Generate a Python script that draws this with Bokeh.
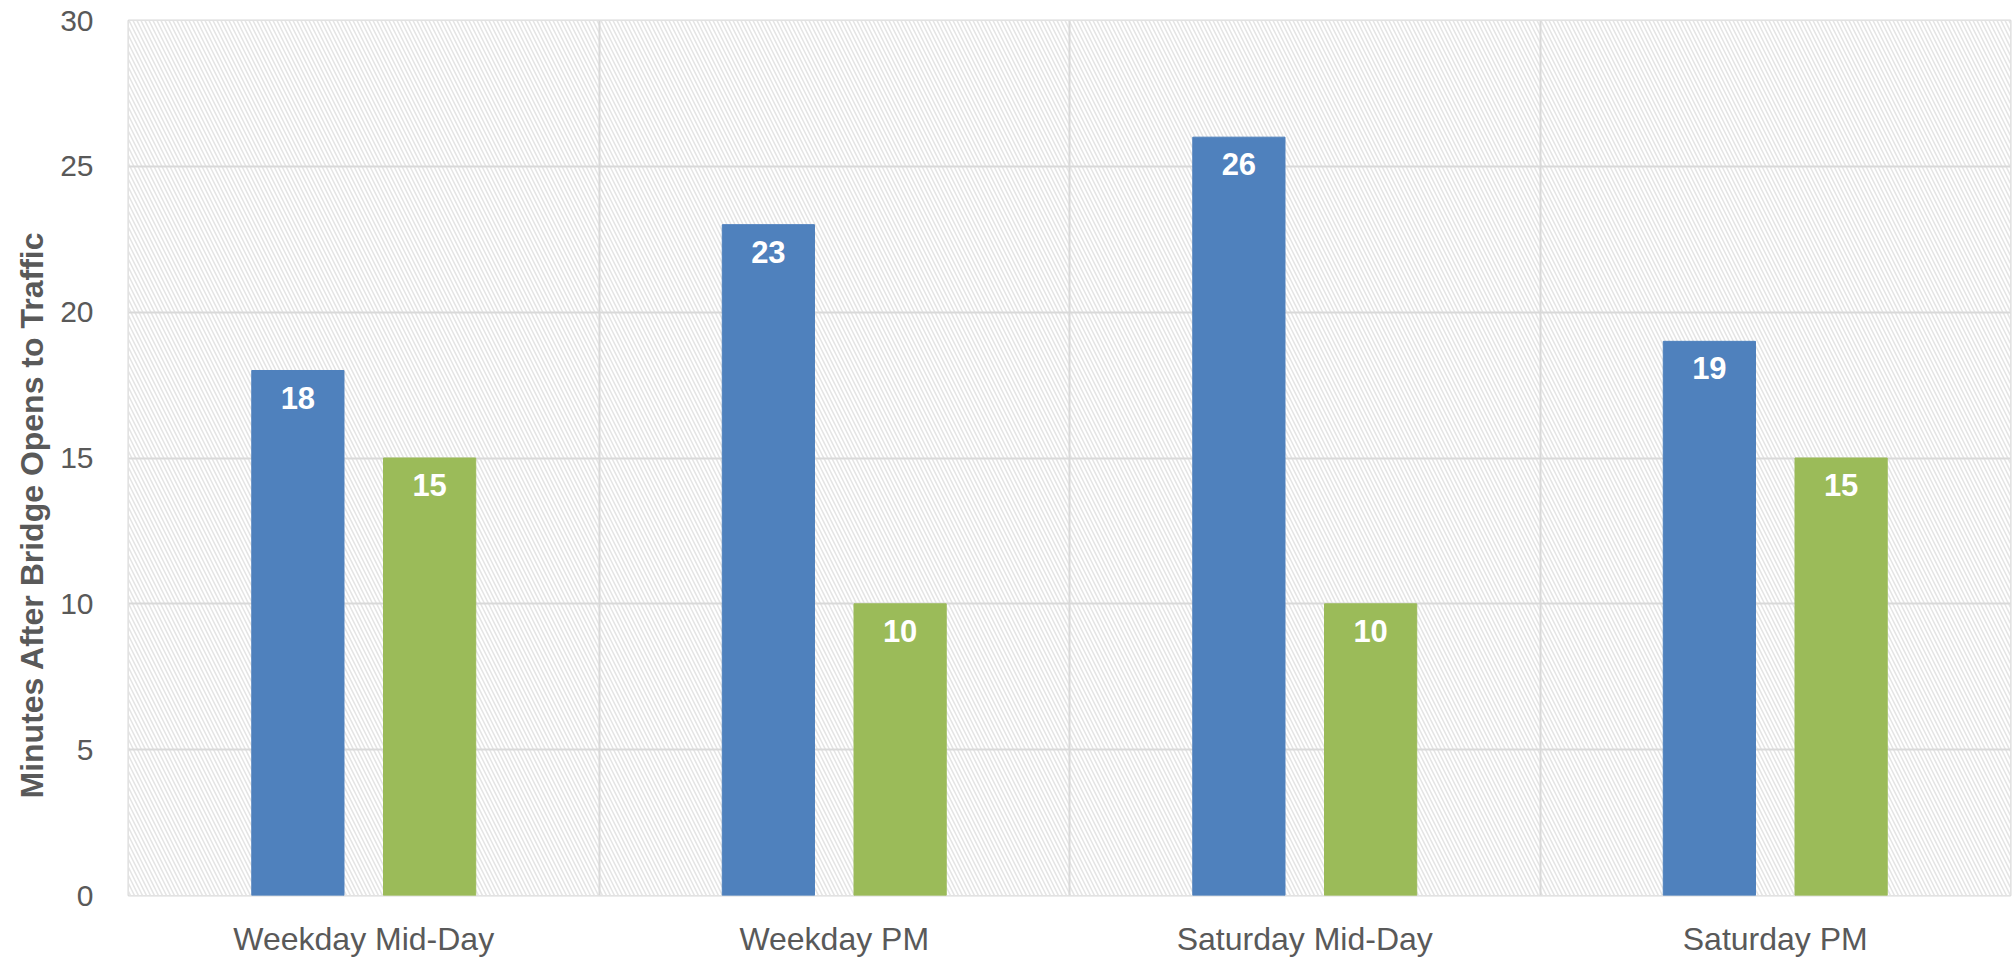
from bokeh.plotting import figure
from bokeh.models import ColumnDataSource, BoxAnnotation, FixedTicker, Range1d, LabelSet, Title
from bokeh.core.properties import value
from bokeh.embed import file_html
from bokeh.resources import INLINE

categories = ["Weekday Mid-Day", "Weekday PM", "Saturday Mid-Day", "Saturday PM"]
series_a = [18, 23, 26, 19]
series_b = [15, 10, 10, 15]
y_ticks = [0, 5, 10, 15, 20, 25, 30]
y_title = "Minutes After Bridge Opens to Traffic"

BLUE = "#4F81BD"
GREEN = "#9BBB59"
TEXT = "#595959"
GRID = "#d9d9d9"
FONT = "Liberation Sans"

centers = [i + 0.5 for i in range(len(categories))]
offset = 0.14
width = 0.196

src_a = ColumnDataSource(dict(x=[c - offset for c in centers], top=series_a, lbl=[str(v) for v in series_a]))
src_b = ColumnDataSource(dict(x=[c + offset for c in centers], top=series_b, lbl=[str(v) for v in series_b]))

p = figure(width=2015, height=959, output_backend="svg", toolbar_location=None,
           x_range=Range1d(0, len(categories)), y_range=Range1d(0, 30),
           min_border_left=128, min_border_right=5, min_border_top=20, min_border_bottom=59)

p.background_fill_color = "white"
p.border_fill_color = "white"
p.outline_line_color = GRID
p.outline_line_width = 2

hatch = BoxAnnotation(level="image", fill_color="white", fill_alpha=1.0, line_alpha=0,
                      hatch_pattern="\\", hatch_color="#e4e4e4", hatch_scale=8, hatch_weight=1.5)
p.add_layout(hatch)

p.vbar(x="x", top="top", width=width, bottom=0, source=src_a, fill_color=BLUE, line_color=BLUE)
p.vbar(x="x", top="top", width=width, bottom=0, source=src_b, fill_color=GREEN, line_color=GREEN)

for src in (src_a, src_b):
    p.add_layout(LabelSet(x="x", y="top", text="lbl", source=src, text_align="center",
                          text_baseline="top", y_offset=-16, text_color="white",
                          text_font=value(FONT), text_font_style="bold", text_font_size="31px"))

# axes
p.xaxis.ticker = FixedTicker(ticks=centers)
p.xaxis.major_label_overrides = {c: lab for c, lab in zip(centers, categories)}
p.yaxis.ticker = FixedTicker(ticks=y_ticks)

for ax in (p.xaxis[0], p.yaxis[0]):
    ax.axis_line_color = None
    ax.major_tick_line_color = None
    ax.minor_tick_line_color = None
    ax.major_label_text_color = TEXT
    ax.major_label_text_font = FONT

p.xaxis.major_label_text_font_size = "32px"
p.yaxis.major_label_text_font_size = "30px"
p.xaxis.major_label_standoff = 19
p.yaxis.major_label_standoff = 29

# y-axis title, shifted downward like the reference
p.add_layout(Title(text=y_title, align="left", offset=97, standoff=16,
                   text_font=FONT, text_font_style="bold", text_font_size="32px",
                   text_color=TEXT), "left")

p.xgrid.ticker = FixedTicker(ticks=list(range(1, len(categories))))
p.xgrid.grid_line_color = GRID
p.xgrid.grid_line_width = 2
p.ygrid.ticker = FixedTicker(ticks=y_ticks)
p.ygrid.grid_line_color = GRID
p.ygrid.grid_line_width = 2

open("out.html", "w").write(file_html(p, INLINE))
